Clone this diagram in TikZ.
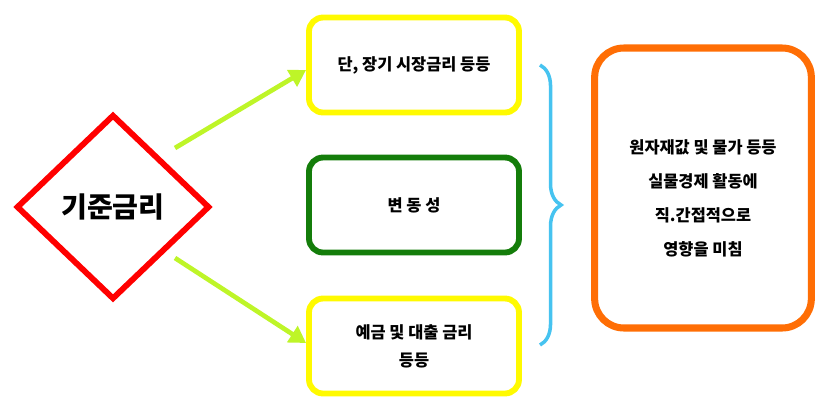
\documentclass[tikz,border=0pt]{standalone}
\usepackage{fontspec}
\setmainfont{Noto Sans CJK KR}
\usetikzlibrary{shapes.geometric,decorations.pathreplacing,arrows.meta}
\tikzset{font=\bfseries}
\tikzstyle{box}=[draw,rounded corners=12pt,line width=5pt,fill=white,minimum width=6.3cm,minimum height=2.85cm,align=center,font=\bfseries\fontsize{14}{24}\selectfont]
\tikzstyle{arr}=[draw=greenyellow,line width=4pt,-{Triangle[length=14pt,width=16pt]}]
\definecolor{greenyellow}{RGB}{190,245,40}
\definecolor{boxyellow}{RGB}{255,250,0}
\definecolor{boxgreen}{RGB}{20,125,10}
\definecolor{boxorange}{RGB}{255,110,5}
\definecolor{bracecol}{RGB}{70,195,240}
\begin{document}
\begin{tikzpicture}[x=0.03cm,y=-0.03cm]
	\useasboundingbox (0,0) rectangle (827,415);
	\node [diamond,draw=red,line width=5pt,fill=white,minimum width=5.8cm,minimum height=5.55cm,inner sep=0pt,font=\bfseries\fontsize{24}{28}\selectfont] (rate) at (113,207) {기준금리};
	\node [box,draw=boxyellow] (market) at (414,65) {단, 장기 시장금리 등등};
	\node [box,draw=boxgreen] (vol) at (414,205) {변 동 성};
	\node [box,draw=boxyellow] (loan) at (414,346) {예금 및 대출 금리\\등등};
	\node [box,draw=boxorange,line width=6pt,rounded corners=25pt,minimum width=6.5cm,minimum height=8.4cm,font=\bfseries\fontsize{14}{29}\selectfont] (effect) at (703,188) {};
	\node [align=center,font=\bfseries\fontsize{14}{29}\selectfont] (effecttext) at (703,198) {원자재값 및 물가 등등\\실물경제 활동에\\직.간접적으로\\영향을 미침};
	\coordinate (bt) at (540,65);
	\coordinate (bb) at (540,345);
	\draw [arr] (175,148) -- (market.west |- 0,70);
	\draw [arr] (175,258) -- (loan.west |- 0,343);
	\draw [bracecol,line width=3pt,decorate,decoration={brace,amplitude=18pt}] (bt) -- (bb);
\end{tikzpicture}
\end{document}
